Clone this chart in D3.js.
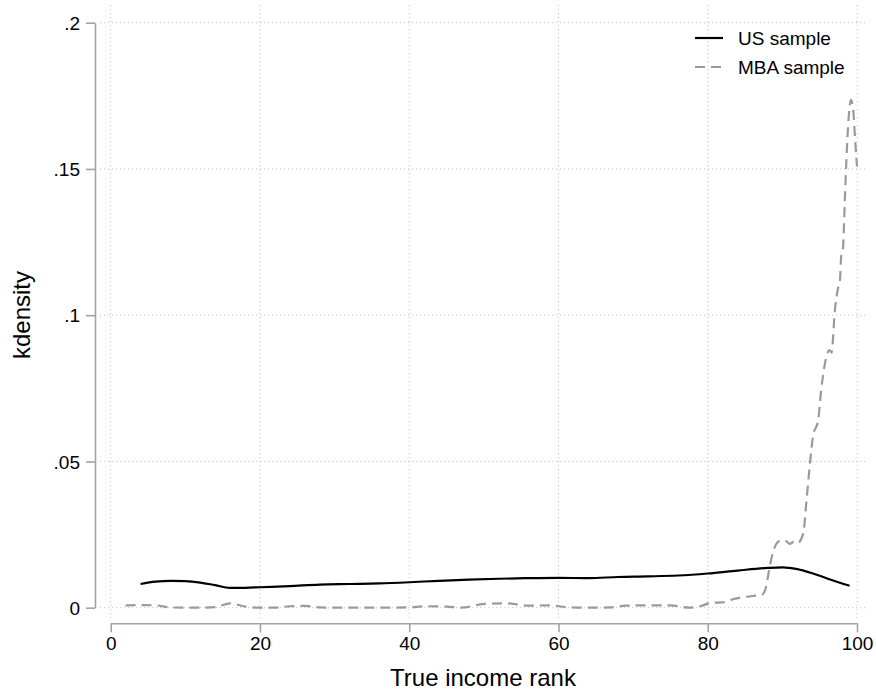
<!DOCTYPE html>
<html>
<head>
<meta charset="utf-8">
<script src="https://cdn.jsdelivr.net/npm/d3@7"></script>
<style>
  body { margin: 0; background: #fff; }
  svg text { font-family: "Liberation Sans", Arial, Helvetica, sans-serif; fill: #000; }
</style>
</head>
<body>
<svg id="chart" width="876" height="694"></svg>
<script>
// ---- data ----
const xTicks = [0, 20, 40, 60, 80, 100];
const yTicks = [0, 0.05, 0.1, 0.15, 0.2];
const yTickLabels = ["0", ".05", ".1", ".15", ".2"];
const seriesNames = ["US sample", "MBA sample"];

const usRank = [4, 6, 8, 10, 12, 14, 16, 18, 20, 24, 28, 32, 36, 40, 44, 48, 52, 56, 60,
                64, 68, 72, 76, 80, 84, 88, 90, 92, 94, 96, 98, 99];
const usDensity = [.0081, .0089, .0092, .0091, .0086, .0077, .0068, .0068, .0070, .0074,
                   .0079, .0081, .0083, .0087, .0092, .0096, .0099, .0101, .0102, .0101,
                   .0105, .0107, .0110, .0117, .0127, .0136, .0138, .0132, .0118, .0100,
                   .0083, .0075];

const mbaRank = [2, 4, 6, 8, 10, 12, 14, 16, 18, 20, 22, 24, 26, 28, 30, 35, 40, 42, 45, 47,
                 50, 53, 56, 59, 61, 64, 67, 69, 72, 75, 77.5, 79, 80.5, 82, 83, 84.5, 86,
                 87.3, 87.8, 88.3, 88.8, 89.3, 90, 90.6, 91, 91.5, 92, 92.8, 93.2, 93.7,
                 94.1, 94.8, 95.2, 95.9, 96.3, 96.6, 97, 97.5, 97.7, 97.9, 98.1, 98.4, 98.8,
                 99.2, 99.5, 99.7, 100];
const mbaDensity = [.0008, .0009, .0008, .0001, 0, 0, .0002, .0015, .0004, 0, 0, .0005,
                    .0006, .0001, 0, 0, .0001, .0005, .0004, 0, .0013, .0015, .0007, .0008,
                    .0002, 0, .0001, .0007, .0008, .0008, 0, .0005, .0017, .0018, .0026,
                    .0035, .0040, .0045, .0070, .0140, .0195, .0222, .0232, .0226, .0218,
                    .0225, .0220, .0254, .0357, .0494, .0585, .0642, .0744, .0858, .0881,
                    .0872, .1006, .1097, .1115, .1206, .1222, .1417, .1644, .1736, .1700,
                    .1620, .1508];

// ---- layout ----
let svg = d3.select("#chart");
const axisGrey = "#a3a3a3",
      gridGrey = "#c4c4c4";

let x = d3.scaleLinear().domain([0, 100]).range([110.7, 857]);
let y = d3.scaleLinear().domain([0, 0.2]).range([607.7, 22.7]);

// plot region (grid runs across it)
const region = { left: 100, right: 867, top: 5, bottom: 618 };

// grid lines
let grid = svg.append("g").attr("class", "grid")
    .attr("stroke", gridGrey)
    .attr("stroke-width", 1)
    .attr("stroke-dasharray", "1.2,2.8");

grid.selectAll(".vgrid").data(xTicks).enter()
    .append("line")
    .attr("x1", d => x(d)).attr("x2", d => x(d))
    .attr("y1", region.top).attr("y2", region.bottom);

grid.selectAll(".hgrid").data(yTicks).enter()
    .append("line")
    .attr("x1", region.left).attr("x2", region.right)
    .attr("y1", d => y(d)).attr("y2", d => y(d));

// axes
let xAxis = svg.append("g")
    .attr("transform", "translate(0,623.3)")
    .call(d3.axisBottom(x).tickValues(xTicks).tickSize(9).tickSizeOuter(0).tickPadding(4));

let yAxis = svg.append("g")
    .attr("transform", "translate(95,0)")
    .call(d3.axisLeft(y).tickValues(yTicks).tickSize(9).tickSizeOuter(0).tickPadding(6)
        .tickFormat((d, i) => yTickLabels[i]));

[xAxis, yAxis].forEach(a => {
    a.select(".domain").attr("stroke", axisGrey).attr("stroke-width", 1.6);
    a.selectAll(".tick line").attr("stroke", axisGrey).attr("stroke-width", 1.6);
    a.selectAll(".tick text").style("font-size", "19px").attr("fill", "#000");
});
yAxis.selectAll(".tick text").attr("dy", "0.35em");

// axis titles
svg.append("text")
    .attr("x", 483).attr("y", 686)
    .attr("text-anchor", "middle")
    .style("font-size", "24px")
    .text("True income rank");

svg.append("text")
    .attr("transform", "translate(30,315) rotate(-90)")
    .attr("text-anchor", "middle")
    .style("font-size", "24px")
    .text("kdensity");

// lines
let usLine = d3.line()
    .x((d, i) => x(usRank[i]))
    .y(d => y(d))
    .curve(d3.curveMonotoneX);

let mbaLine = d3.line()
    .x((d, i) => x(mbaRank[i]))
    .y(d => y(d))
    .curve(d3.curveMonotoneX);

svg.append("path")
    .attr("d", mbaLine(mbaDensity))
    .attr("fill", "none")
    .attr("stroke", "#9a9a9a")
    .attr("stroke-width", 2.2)
    .attr("stroke-dasharray", "10,6");

svg.append("path")
    .attr("d", usLine(usDensity))
    .attr("fill", "none")
    .attr("stroke", "#000")
    .attr("stroke-width", 2.2);

// legend
let legend = svg.append("g").attr("transform", "translate(695,38)");
let styles = [
    { stroke: "#000", dash: null, width: 2.2 },
    { stroke: "#9a9a9a", dash: "10,6", width: 2.2 }
];
let item = legend.selectAll(".item").data(seriesNames).enter()
    .append("g")
    .attr("transform", (d, i) => "translate(0," + (i * 29) + ")");

item.append("line")
    .attr("x1", 0).attr("x2", 28)
    .attr("stroke", (d, i) => styles[i].stroke)
    .attr("stroke-width", (d, i) => styles[i].width)
    .attr("stroke-dasharray", (d, i) => styles[i].dash);

item.append("text")
    .attr("x", 43).attr("dy", "0.35em")
    .style("font-size", "19px")
    .text(d => d);
</script>
</body>
</html>
